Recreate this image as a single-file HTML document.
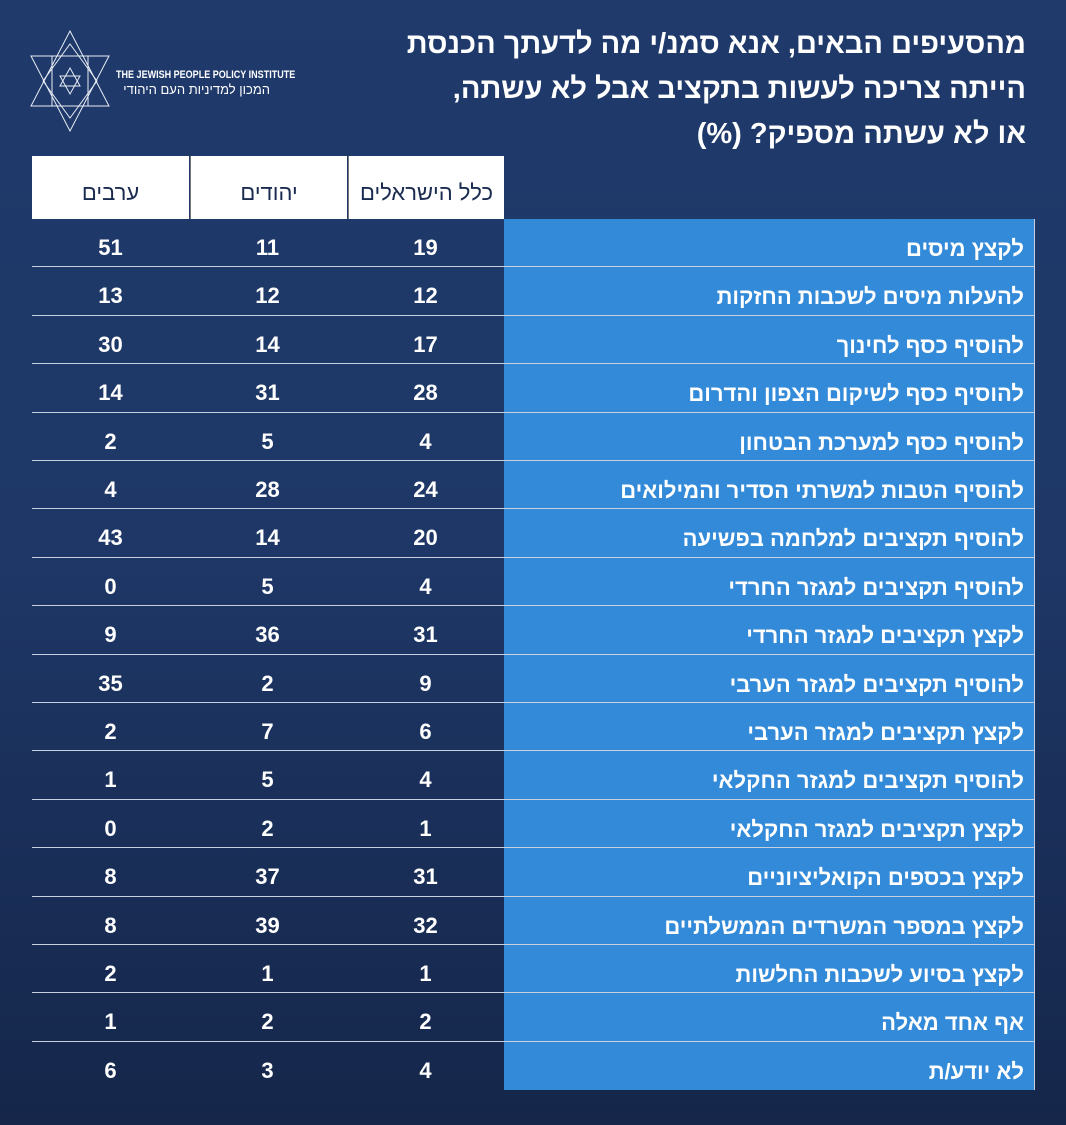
<!DOCTYPE html>
<html><head><meta charset="utf-8"><style>
body{margin:0;width:1066px;height:1125px;overflow:hidden;background:linear-gradient(180deg,#1f3a6b 0%,#1e3766 50%,#15264a 100%);font-family:"Liberation Sans","Noto Sans CJK SC",sans-serif;position:relative}
.t{position:absolute;right:40px;top:22px;color:#fff;font-weight:bold;font-size:29px;line-height:45px;text-align:right;direction:rtl}
.hd{position:absolute;top:156px;height:63px;background:#fff;color:#1a2b50;font-size:22px;display:flex;align-items:center;justify-content:center;direction:rtl;box-sizing:border-box;padding-top:10px}
.row{position:absolute;left:32px;width:1003px;height:48.4px;border-bottom:1.5px solid #c8d0e0;box-sizing:border-box}
.lab{position:absolute;left:472px;right:0;top:0;bottom:0;background:#328ad8;color:#fff;font-weight:bold;font-size:22px;direction:rtl;text-align:right;padding-right:10px;line-height:48px;padding-top:6px;box-sizing:border-box;border-right:1.5px solid #c8d0e0}
.n{position:absolute;top:5px;width:157px;text-align:center;color:#fff;font-weight:bold;font-size:22px;line-height:48px}
</style></head><body>
<svg style="position:absolute;left:30px;top:30px" width="80" height="102" viewBox="0 0 80 102" fill="none" stroke="#e8ecf4" stroke-width="1">
<polygon points="40,1 79,76 1,76"/><polygon points="40,101 79,26 1,26"/>
<rect x="22" y="26" width="36" height="50"/><polygon points="40,14 67,51 40,88 13,51"/>
<polygon points="40,38 50,56 30,56"/><polygon points="40,64 50,46 30,46"/>
</svg>
<div style="position:absolute;left:116px;top:69px;color:#fff;font-size:11px;font-weight:bold;white-space:nowrap;transform:scaleX(0.82);transform-origin:left">THE JEWISH PEOPLE POLICY INSTITUTE</div>
<div style="position:absolute;left:118px;top:82px;width:152px;color:#fff;font-size:13px;direction:rtl;text-align:right;white-space:nowrap">המכון למדיניות העם היהודי</div>
<div class="t">מהסעיפים הבאים, אנא סמנ/י מה לדעתך הכנסת<br>הייתה צריכה לעשות בתקציב אבל לא עשתה,<br>או לא עשתה מספיק? (%)</div>
<div class="hd" style="left:32px;width:157px">ערבים</div>
<div class="hd" style="left:190px;width:157px;border-left:1.5px solid #777">יהודים</div>
<div class="hd" style="left:348px;width:156px;border-left:1.5px solid #777">כלל הישראלים</div>
<div id="rows"></div>
<script>
var d=[["לקצץ מיסים",19,11,51],["להעלות מיסים לשכבות החזקות",12,12,13],["להוסיף כסף לחינוך",17,14,30],["להוסיף כסף לשיקום הצפון והדרום",28,31,14],["להוסיף כסף למערכת הבטחון",4,5,2],["להוסיף הטבות למשרתי הסדיר והמילואים",24,28,4],["להוסיף תקציבים למלחמה בפשיעה",20,14,43],["להוסיף תקציבים למגזר החרדי",4,5,0],["לקצץ תקציבים למגזר החרדי",31,36,9],["להוסיף תקציבים למגזר הערבי",9,2,35],["לקצץ תקציבים למגזר הערבי",6,7,2],["להוסיף תקציבים למגזר החקלאי",4,5,1],["לקצץ תקציבים למגזר החקלאי",1,2,0],["לקצץ בכספים הקואליציוניים",31,37,8],["לקצץ במספר המשרדים הממשלתיים",32,39,8],["לקצץ בסיוע לשכבות החלשות",1,1,2],["אף אחד מאלה",2,2,1],["לא יודע/ת",4,3,6]];
var h="";d.forEach(function(r,i){var y=219+i*48.4;h+='<div class="row" style="top:'+y+'px'+(i==17?';border-bottom:none':'')+'"><div class="lab">'+r[0]+'</div><div class="n" style="left:0">'+r[3]+'</div><div class="n" style="left:157px">'+r[2]+'</div><div class="n" style="left:315px">'+r[1]+'</div></div>';});
document.getElementById("rows").innerHTML=h;
</script>
</body></html>
